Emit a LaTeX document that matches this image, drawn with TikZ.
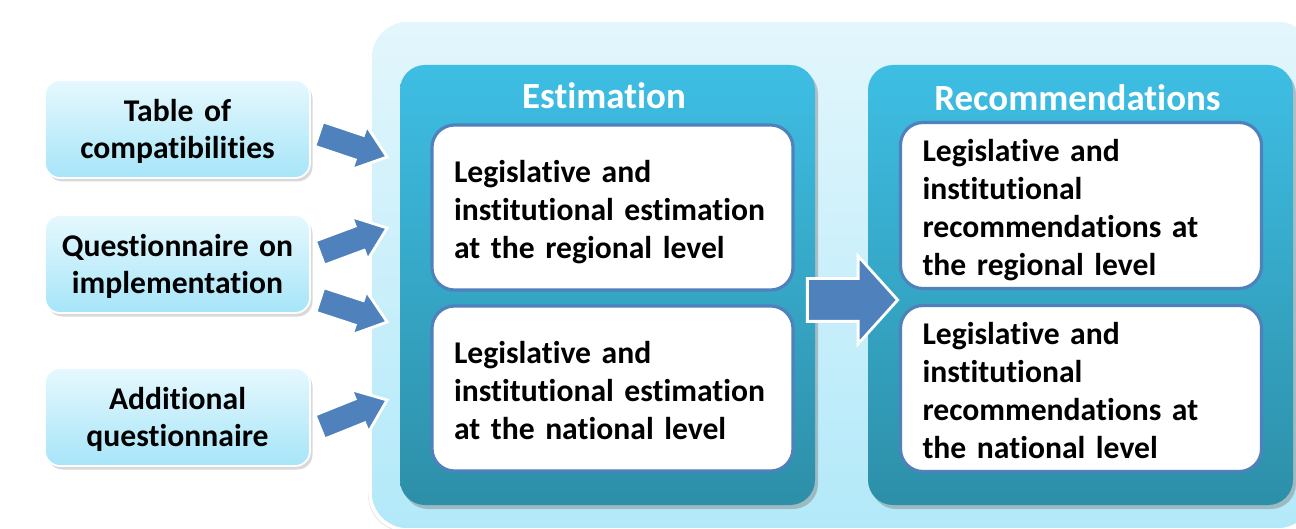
\documentclass[tikz,border=0pt]{standalone}
\usepackage{fontspec}
\setmainfont{Carlito}[Ligatures=NoCommon, WordSpace=0.85]
\usetikzlibrary{calc,positioning,shapes.arrows,shadows}
\definecolor{flowblue}{HTML}{4F81BD}
\definecolor{backtop}{HTML}{E3F6FC}
\definecolor{backbottom}{HTML}{B2E9F9}
\definecolor{inputtop}{HTML}{E6F8FE}
\definecolor{inputbottom}{HTML}{A6E5F8}
\definecolor{paneltop}{HTML}{3EBEE4}
\definecolor{panelbottom}{HTML}{2D8FA8}
\def\blockarrow[#1](#2)(#3){\path let \p1=(#2), \p2=(#3), \n1={atan2(\y2-\y1,\x2-\x1)}, \n2={veclen(\x2-\x1,\y2-\y1)} in node[#1, rotate=\n1, minimum height=\n2, anchor=tail] at (#2) {};}
\tikzset{
	linestrut/.style={execute at begin node={\rule{0pt}{#1}}, execute at end node={\rule[-4pt]{0pt}{4pt}}},
	inputbox/.style={rounded corners=0.3cm, minimum width=5.3cm, minimum height=1.96cm, text width=4.9cm, inner xsep=0.2cm, top color=inputtop, bottom color=inputbottom, draw=white, line width=1pt, align=center, font=\fontsize{18}{21.6}\selectfont\bfseries, linestrut=16.5pt, drop shadow={shadow xshift=0.05cm, shadow yshift=-0.07cm, opacity=0.3}},
	stagepanel/.style={rounded corners=0.5cm, minimum width=8.3cm, minimum height=8.8cm, top color=paneltop, bottom color=panelbottom, drop shadow={shadow xshift=0.06cm, shadow yshift=-0.08cm, opacity=0.45}},
	stagetitle/.style={text=white, font=\fontsize{21}{25}\selectfont\bfseries},
	resultbox/.style={rounded corners=0.45cm, draw=flowblue, line width=1.8pt, fill=white, minimum height=3.3cm, text width=6.34cm, inner xsep=0.44cm, align=left, font=\fontsize{18}{21.6}\selectfont\bfseries, linestrut=19pt},
	thinarrow/.style={single arrow, fill=flowblue, draw=white, line width=1.6pt, inner xsep=0pt, inner ysep=0.23cm, single arrow head extend=0.2cm, single arrow tip angle=76, outer sep=0pt},
	widearrow/.style={thinarrow, inner ysep=0.4cm, single arrow head extend=0.45cm, single arrow tip angle=96}
}

\begin{document}
\begin{tikzpicture}
	%%%%% START %%%%%
	\useasboundingbox (0,0) rectangle (25.92,10.56);
	
	\path[rounded corners=0.75cm, top color=backtop, bottom color=backbottom, draw=white, line width=2pt, drop shadow={shadow xshift=-0.04cm, shadow yshift=-0.04cm, opacity=0.2}] (7.4,-0.04) rectangle (26.3,10.16);
	
	\node[inputbox] (table) at (3.55,7.98) {Table of\\compatibilities};
	\node[inputbox] (quest) at (3.55,5.28) {Questionnaire on\\implementation};
	\node[inputbox] (extra) at (3.55,2.22) {Additional\\questionnaire};
	
	\node[stagepanel] (est) at (12.15,4.86) {};
	\node[stagetitle] (esttitle) at (12.08,8.64) {Estimation};
	\node[resultbox] (estreg) at (12.25,6.41) {Legislative and\\institutional estimation\\at the regional level};
	\node[resultbox] (estnat) at (12.25,2.79) {Legislative and\\institutional estimation\\at the national level};
	
	\node[stagepanel, minimum width=8.5cm] (rec) at (21.61,4.86) {};
	\node[stagetitle] (rectitle) at (21.55,8.6) {Recommendations};
	\node[resultbox] (recreg) at (21.62,6.45) {Legislative and\\institutional\\recommendations at\\the regional level};
	\node[resultbox] (recnat) at (21.62,2.79) {Legislative and\\institutional\\recommendations at\\the national level};
	
	\coordinate (tableout) at ($(table.east)+(0.16,-0.1)$);
	\coordinate (questout) at ($(quest.east)+(0.18,0.22)$);
	\coordinate (questoutb) at ($(quest.east)+(0.18,-0.72)$);
	\coordinate (extraout) at ($(extra.east)+(0.18,-0.2)$);
	\coordinate (estin) at ($(est.west)+(-0.25,2.56)$);
	\coordinate (estinb) at ($(est.west)+(-0.25,1.14)$);
	\coordinate (estinc) at ($(est.west)+(-0.25,-0.74)$);
	\coordinate (estind) at ($(est.west)+(-0.25,-2.3)$);
	\coordinate (estout) at ($(est.east)+(-0.16,-0.3)$);
	\coordinate (recin) at ($(rec.west)+(0.6,-0.3)$);
	
	\blockarrow[thinarrow](tableout)(estin)
	\blockarrow[thinarrow](questout)(estinb)
	\blockarrow[thinarrow](questoutb)(estinc)
	\blockarrow[thinarrow](extraout)(estind)
	\blockarrow[widearrow](estout)(recin)
	
	%%%%% END %%%%%
\end{tikzpicture}
\end{document}
